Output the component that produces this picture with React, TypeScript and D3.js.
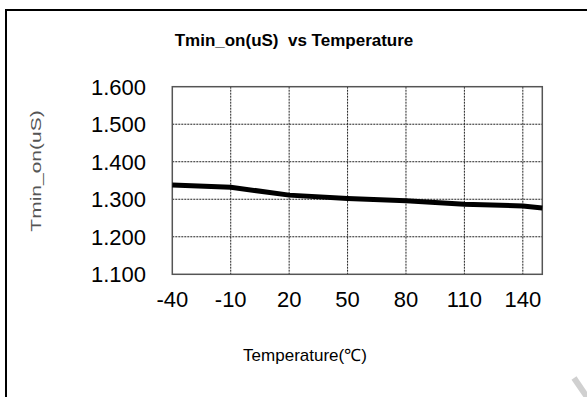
import React, { useEffect, useRef } from 'react';
import * as d3 from 'd3';

// values
const temperatures = [-40, -10, 20, 50, 80, 110, 140, 150];
const tminOnValues = [1.338, 1.332, 1.311, 1.302, 1.296, 1.287, 1.282, 1.277];
const xTicks = [-40, -10, 20, 50, 80, 110, 140];
const yTicks = [1.1, 1.2, 1.3, 1.4, 1.5, 1.6];

const FONT = '"Liberation Sans", Arial, sans-serif';

const App = () => {
  const svgRef = useRef<SVGSVGElement>(null);

  useEffect(() => {
    const svg = d3.select(svgRef.current);
    svg.selectAll('*').remove();

    const left = 172.3, right = 542.3, top = 86.7, bottom = 274.3;

    const x = d3.scaleLinear().domain([-40, 150]).range([left, right]);
    const y = d3.scaleLinear().domain([1.1, 1.6]).range([bottom, top]);

    svg.append('rect')
      .attr('width', 587).attr('height', 397).attr('fill', '#fff');

    // outer frame (only top/left edges fall inside the picture)
    svg.append('rect')
      .attr('x', 6).attr('y', 10)
      .attr('width', 620).attr('height', 420)
      .attr('fill', 'none').attr('stroke', '#000').attr('stroke-width', 2);

    // title
    svg.append('text')
      .attr('x', 294).attr('y', 46)
      .attr('text-anchor', 'middle')
      .style('font-family', FONT).style('font-size', '17px').style('font-weight', 'bold')
      .text('Tmin_on(uS)\u00a0\u00a0vs Temperature');

    // grid
    const grid = svg.append('g').attr('stroke', '#222').attr('stroke-width', 1)
      .attr('stroke-dasharray', '2,1');
    grid.selectAll('.vg')
      .data(xTicks.slice(1))
      .enter()
      .append('line')
      .attr('x1', d => x(d)).attr('x2', d => x(d))
      .attr('y1', top).attr('y2', bottom);
    grid.selectAll('.hg')
      .data(yTicks.slice(1, -1))
      .enter()
      .append('line')
      .attr('x1', left).attr('x2', right)
      .attr('y1', d => y(d)).attr('y2', d => y(d));

    // plot frame
    svg.append('rect')
      .attr('x', left).attr('y', top)
      .attr('width', right - left).attr('height', bottom - top)
      .attr('fill', 'none').attr('stroke', '#555').attr('stroke-width', 1.5);

    // data line
    const line = d3.line<number>()
      .x((d, i) => x(temperatures[i]))
      .y(d => y(d));
    svg.append('path')
      .datum(tminOnValues)
      .attr('d', line)
      .attr('fill', 'none')
      .attr('stroke', '#000')
      .attr('stroke-width', 5);

    // y tick labels
    svg.selectAll('.yl')
      .data(yTicks)
      .enter()
      .append('text')
      .attr('x', 146).attr('y', d => y(d))
      .attr('dy', '0.36em')
      .attr('text-anchor', 'end')
      .style('font-family', FONT).style('font-size', '22px')
      .text(d => d3.format('.3f')(d));

    // x tick labels
    svg.selectAll('.xl')
      .data(xTicks)
      .enter()
      .append('text')
      .attr('x', d => x(d)).attr('y', 307)
      .attr('text-anchor', 'middle')
      .style('font-family', FONT).style('font-size', '22px')
      .text(d => d);

    // axis titles
    svg.append('text')
      .attr('x', 305).attr('y', 361)
      .attr('text-anchor', 'middle')
      .style('font-family', FONT).style('font-size', '17px')
      .text('Temperature(℃)');

    svg.append('text')
      .attr('transform', 'translate(41,171) rotate(-90) scale(1.4,1)')
      .attr('text-anchor', 'middle')
      .attr('fill', '#555')
      .style('font-family', FONT).style('font-size', '15px')
      .text('Tmin_on(uS)');

    // faint mark at bottom right
    svg.append('line')
      .attr('x1', 574).attr('y1', 378).attr('x2', 587).attr('y2', 397)
      .attr('stroke', '#d0d0d0').attr('stroke-width', 6);
  }, []);

  return (
    <svg ref={svgRef} width={587} height={397}
      style={{ position: 'absolute', left: 0, top: 0, display: 'block' }} />
  );
};

export default App;
